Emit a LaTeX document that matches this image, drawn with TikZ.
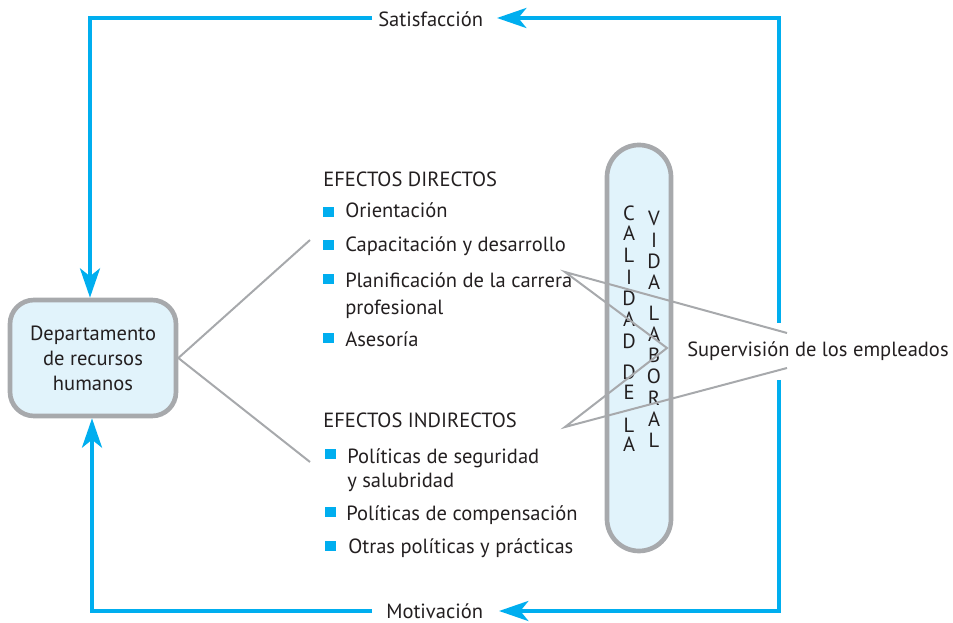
\documentclass[tikz,border=0pt]{standalone}
\usepackage{fontspec}
\setmainfont{PT Sans}
\usetikzlibrary{arrows.meta}
\definecolor{cyanb}{HTML}{00AEEF}
\definecolor{grayb}{HTML}{A7A9AC}
\definecolor{fillb}{HTML}{E1F3FB}
\definecolor{txt}{HTML}{231F20}
\begin{document}
\begin{tikzpicture}[x=0.75pt,y=-0.75pt,
  every node/.style={font=\fontsize{15.4}{18.75}\selectfont, text=txt, inner sep=0pt},
  flow/.style={draw=cyanb, line width=3pt},
  tipped/.style={-{Stealth[length=22pt,width=15pt,inset=6pt]}},
  link/.style={draw=grayb, line width=1.5pt},
  hrbox/.style={draw=grayb, line width=3.5pt, fill=fillb, rounded corners=18pt,
    minimum width=124.5pt, minimum height=87pt, align=center},
  pill/.style={draw=grayb, line width=3.5pt, fill=fillb, rounded corners=24pt,
    minimum width=48pt, minimum height=304.5pt},
  bullet/.style={fill=cyanb, minimum size=8pt},
  item/.style={anchor=base west},
  letter/.style={anchor=center}]
\useasboundingbox (0,0) rectangle (953,623);

% main box
\node[hrbox] (rh) at (93,358) {Departamento\\de recursos\\humanos};

% pill
\node[pill] (cvl) at (639,348) {};
\foreach \l/\yy in {C/213,A/233,L/255,I/277,D/298,A/319,D/341,D/372,E/392,L/425,A/444}
  \node[letter] at (629,\yy) {\l};
\foreach \l/\yy in {V/218,I/240,D/261,A/282,L/313,A/334,B/355,O/376,R/398,A/419,L/440}
  \node[letter] at (654,\yy) {\l};

% labels
\node[item] (sat) at (378,27) {Satisfacción};
\node[item] (mot) at (386,618) {Motivación};
\node[item] (sup) at (687,357) {Supervisión de los empleados};

\node[item] (ed) at (323,187) {EFECTOS DIRECTOS};
\node[bullet] (b1) at (328.5,212) {};
\node[item] (i1) at (345,218) {Orientación};
\node[bullet] (b2) at (328.5,245) {};
\node[item] (i2) at (345,252) {Capacitación y desarrollo};
\node[bullet] (b3) at (328.5,279) {};
\node[item] (i3) at (345,288) {Planificación de la carrera};
\node[item] (i3b) at (345,315) {profesional};
\node[bullet] (b4) at (328.5,338) {};
\node[item] (i4) at (345,347) {Asesoría};

\node[item] (ei) at (323,427) {EFECTOS INDIRECTOS};
\node[bullet] (b5) at (330.5,454) {};
\node[item] (i5) at (347,463) {Políticas de seguridad};
\node[item] (i5b) at (347,487) {y salubridad};
\node[bullet] (b6) at (330.5,512) {};
\node[item] (i6) at (346,520) {Políticas de compensación};
\node[bullet] (b7) at (330.5,546) {};
\node[item] (i7) at (348,553) {Otras políticas y prácticas};

% gray connectors
\coordinate (d1) at (310,240);
\coordinate (d2) at (310,462);
\draw[link] (d1) -- (rh.east) -- (d2);
\coordinate (s1) at (787,333);
\coordinate (p1) at (565,272);
\coordinate (q) at (667,348);
\coordinate (p2) at (565,427);
\coordinate (s2) at (787,368);
\draw[link] (s1) -- (p1) -- (q) -- (p2) -- (s2);

% blue loop
\coordinate (r1) at (779,323);
\coordinate (r2) at (779,380);
\coordinate (tr) at (779,18);
\coordinate (br) at (779,611);
\coordinate (ta) at (497,18);
\coordinate (ba) at (499,611);
\coordinate (tl0) at (372,18);
\coordinate (tl) at (90,18);
\coordinate (bl0) at (372,611);
\coordinate (bl) at (92,611);
\draw[flow,tipped] (r1) -- (tr) -- (ta);
\draw[flow,tipped] (r2) -- (br) -- (ba);
\draw[flow,tipped] (tl0) -- (tl) -- (rh.north -| tl);
\draw[flow,tipped] (bl0) -- (bl) -- (rh.south -| bl);
\end{tikzpicture}
\end{document}
